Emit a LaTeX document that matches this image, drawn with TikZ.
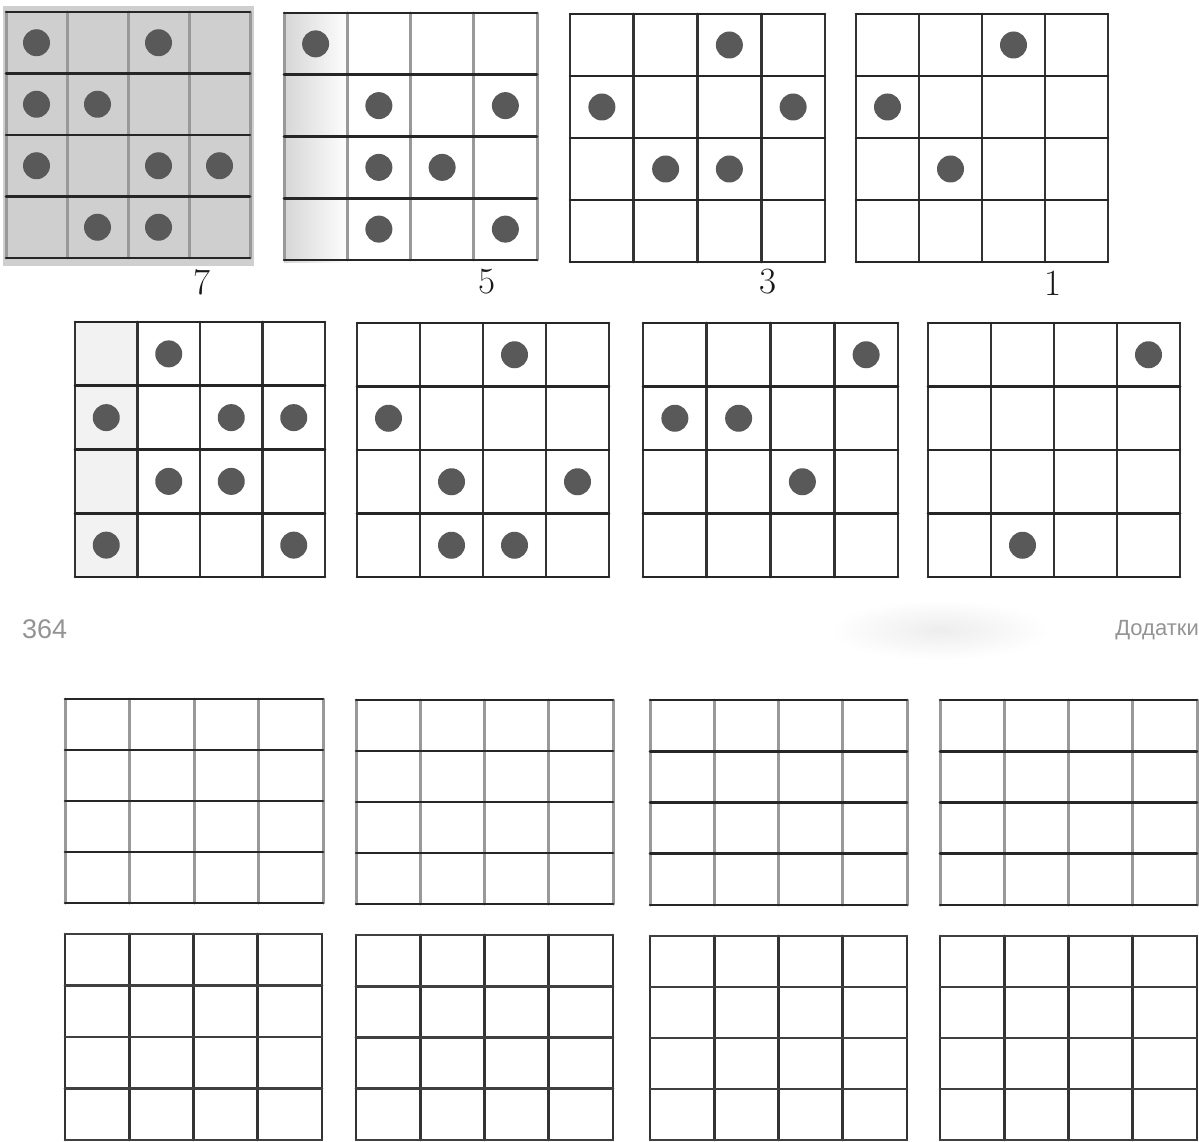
\documentclass[tikz,border=0pt]{standalone}
\usepackage{fontspec}
\newfontfamily\sansf{Liberation Sans}
\tikzset{
  hdark/.style={line width=2.6pt, draw=black!85, line cap=round},
  vdark/.style={line width=2.6pt, draw=black!80, line cap=round},
  vgray/.style={line width=3pt, draw=black!40, line cap=round},
  hgray/.style={line width=2.6pt, draw=black!75, line cap=round},
  dot/.style={fill=black!65},
  numlab/.style={font=\fontsize{37}{37}\selectfont, inner sep=0pt, text=black!90},
  pagelab/.style={font=\sansf\fontsize{27}{27}\selectfont, inner sep=0pt, text=black!42}
}
% x0,y0,x1,y1,hstyle,vstyle
\newcommand\drawgrid[6]{%
  \foreach \i in {0,...,4}{
    \draw[#6] ({#1+(#3-#1)*\i/4},#2) -- ({#1+(#3-#1)*\i/4},#4);
  }
  \foreach \i in {0,...,4}{
    \draw[#5] (#1,{#2+(#4-#2)*\i/4}) -- (#3,{#2+(#4-#2)*\i/4});
  }
}
% x0,y0,x1,y1, list col/row
\newcommand\gdots[5]{%
  \foreach \c/\r in {#5}{
    \fill[dot] ({#1+(#3-#1)*(\c-0.5)/4},{#2+(#4-#2)*(\r-0.5)/4}) circle (13.5pt);
  }
}
\begin{document}
\begin{tikzpicture}[x=1pt,y=-1pt]
\useasboundingbox (0,0) rectangle (1199,1142);
\fill[white] (0,0) rectangle (1199,1142);
% scanned shading
\fill[black!19] (3,6) rectangle (254,266);
\shade[left color=black!16, right color=white] (284,13) rectangle (350,262);
\fill[black!5] (75,322) rectangle (137,577);
\shade[inner color=black!7, outer color=white] (940,630) ellipse [x radius=110pt, y radius=30pt];
% row 1
\drawgrid{6}{12}{250}{258}{hdark}{vgray}
\gdots{6}{12}{250}{258}{1/1,3/1,1/2,2/2,1/3,3/3,4/3,2/4,3/4}
\drawgrid{284}{13}{537}{260}{hdark}{vgray}
\gdots{284}{13}{537}{260}{1/1,2/2,4/2,2/3,3/3,2/4,4/4}
\drawgrid{570}{14}{825}{262}{hdark}{vdark}
\gdots{570}{14}{825}{262}{3/1,1/2,4/2,2/3,3/3}
\drawgrid{856}{14}{1108}{262}{hdark}{vdark}
\gdots{856}{14}{1108}{262}{3/1,1/2,2/3}
\node[numlab] (l7) at (202,282) {7};
\node[numlab] (l5) at (487,282) {5};
\node[numlab] (l3) at (768,282) {3};
\node[numlab] (l1) at (1053,283) {1};
% row 2
\drawgrid{75}{322}{325}{577}{hdark}{vdark}
\gdots{75}{322}{325}{577}{2/1,1/2,3/2,4/2,2/3,3/3,1/4,4/4}
\drawgrid{357}{323}{609}{577}{hdark}{vdark}
\gdots{357}{323}{609}{577}{3/1,1/2,2/3,4/3,2/4,3/4}
\drawgrid{643}{323}{898}{577}{hdark}{vdark}
\gdots{643}{323}{898}{577}{4/1,1/2,2/2,3/3}
\drawgrid{928}{323}{1180}{577}{hdark}{vdark}
\gdots{928}{323}{1180}{577}{4/1,2/4}
% page header
\node[pagelab, anchor=west] (pnum) at (22,629) {364};
\node[pagelab, anchor=east, font=\sansf\fontsize{22}{22}\selectfont] (ptitle) at (1199,630) {Додатки};
% row 3
\drawgrid{65}{699}{323}{903}{hdark}{vgray}
\drawgrid{356}{700}{613}{904}{hdark}{vgray}
\drawgrid{650}{700}{907}{905}{hdark}{vgray}
\drawgrid{940}{700}{1197}{905}{hdark}{vgray}
% row 4
\drawgrid{65}{934}{322}{1140}{hgray}{vdark}
\drawgrid{356}{935}{613}{1140}{hgray}{vdark}
\drawgrid{650}{936}{907}{1140}{hgray}{vdark}
\drawgrid{940}{936}{1197}{1140}{hgray}{vdark}
\end{tikzpicture}
\end{document}
